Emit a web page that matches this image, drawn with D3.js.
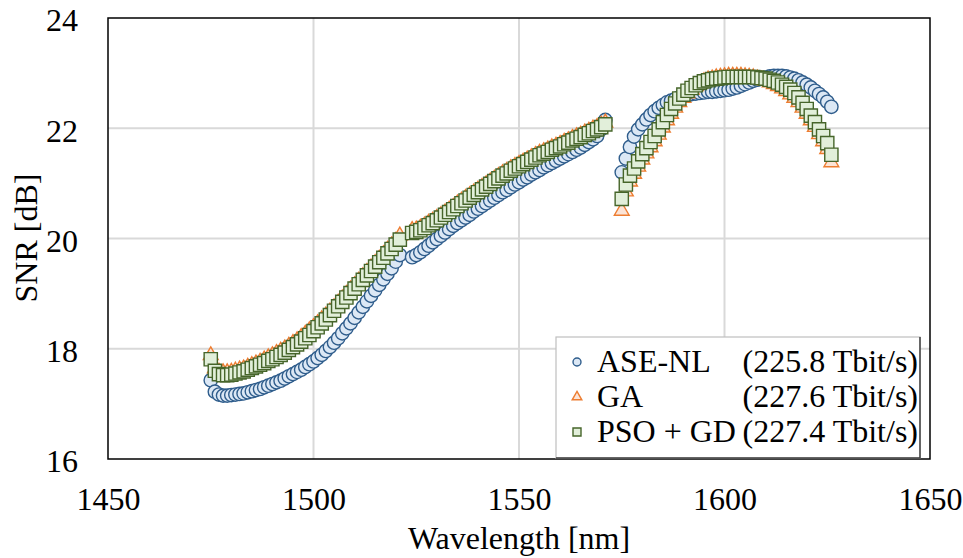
<!DOCTYPE html>
<html><head><meta charset="utf-8">
<script src="https://cdn.jsdelivr.net/npm/d3@7/dist/d3.min.js"></script>
</head><body style="margin:0"><svg id="c" width="963" height="558"></svg>
<script>
// Wavelength grid of each band [nm]
const wlS = [1475,1476,1477,1478,1479,1480,1481,1482,1483,1484,1485,1486,1487,1488,1489,1490,1491,1492,1493,1494,1495,1496,1497,1498,1499,1500,1501,1502,1503,1504,1505,1506,1507,1508,1509,1510,1511,1512,1513,1514,1515,1516,1517,1518,1519,1520,1521];
const wlC = [1524,1525,1526,1527,1528,1529,1530,1531,1532,1533,1534,1535,1536,1537,1538,1539,1540,1541,1542,1543,1544,1545,1546,1547,1548,1549,1550,1551,1552,1553,1554,1555,1556,1557,1558,1559,1560,1561,1562,1563,1564,1565,1566,1567,1568,1569,1570,1571];
const wlL = [1575,1576,1577,1578,1579,1580,1581,1582,1583,1584,1585,1586,1587,1588,1589,1590,1591,1592,1593,1594,1595,1596,1597,1598,1599,1600,1601,1602,1603,1604,1605,1606,1607,1608,1609,1610,1611,1612,1613,1614,1615,1616,1617,1618,1619,1620,1621,1622,1623,1624,1625,1626];

// SNR [dB] — ASE-NL
const aseS = [17.43,17.22,17.17,17.15,17.15,17.16,17.17,17.18,17.19,17.21,17.23,17.25,17.27,17.30,17.33,17.36,17.39,17.42,17.46,17.50,17.54,17.58,17.62,17.67,17.72,17.77,17.83,17.89,17.96,18.03,18.11,18.19,18.28,18.37,18.46,18.56,18.66,18.76,18.86,18.96,19.06,19.16,19.26,19.36,19.46,19.58,19.70];
const aseC = [19.66,19.70,19.75,19.81,19.87,19.93,19.99,20.05,20.11,20.17,20.23,20.28,20.33,20.38,20.43,20.49,20.54,20.59,20.64,20.69,20.74,20.79,20.84,20.88,20.93,20.98,21.02,21.07,21.11,21.16,21.20,21.24,21.29,21.33,21.37,21.41,21.45,21.49,21.53,21.57,21.61,21.65,21.70,21.75,21.80,21.86,21.98,22.15];
const aseL = [21.20,21.45,21.66,21.85,21.98,22.07,22.16,22.24,22.31,22.37,22.42,22.47,22.50,22.53,22.56,22.58,22.60,22.62,22.63,22.64,22.65,22.66,22.66,22.67,22.68,22.69,22.70,22.72,22.74,22.77,22.80,22.83,22.86,22.88,22.90,22.92,22.94,22.95,22.95,22.95,22.94,22.92,22.90,22.87,22.83,22.79,22.74,22.68,22.62,22.56,22.48,22.39];

// SNR [dB] — GA
const gaS = [17.88,17.64,17.58,17.57,17.57,17.58,17.60,17.62,17.64,17.67,17.70,17.73,17.76,17.80,17.84,17.88,17.92,17.96,18.00,18.05,18.10,18.15,18.21,18.27,18.33,18.39,18.46,18.53,18.60,18.67,18.75,18.83,18.91,18.99,19.07,19.15,19.23,19.31,19.39,19.47,19.55,19.63,19.71,19.79,19.87,19.95,20.05];
const gaC = [20.15,20.16,20.19,20.23,20.28,20.32,20.37,20.42,20.47,20.52,20.57,20.63,20.68,20.73,20.78,20.83,20.88,20.93,20.98,21.03,21.08,21.13,21.18,21.22,21.27,21.31,21.35,21.39,21.43,21.47,21.51,21.55,21.58,21.61,21.65,21.68,21.71,21.75,21.78,21.82,21.85,21.88,21.92,21.95,21.99,22.02,22.06,22.10];
const gaL = [20.50,20.85,21.03,21.17,21.30,21.43,21.54,21.65,21.76,21.88,22.01,22.14,22.26,22.37,22.47,22.55,22.63,22.70,22.76,22.81,22.85,22.88,22.90,22.92,22.93,22.94,22.95,22.95,22.95,22.95,22.94,22.93,22.92,22.90,22.88,22.86,22.83,22.80,22.76,22.72,22.67,22.61,22.55,22.47,22.37,22.26,22.14,22.02,21.89,21.76,21.62,21.38];

// SNR [dB] — PSO + GD
const psoS = [17.81,17.60,17.54,17.52,17.52,17.53,17.55,17.57,17.59,17.62,17.65,17.68,17.71,17.74,17.78,17.81,17.85,17.89,17.93,17.98,18.03,18.08,18.13,18.19,18.25,18.32,18.39,18.46,18.53,18.61,18.69,18.77,18.85,18.93,19.01,19.09,19.17,19.25,19.33,19.41,19.49,19.57,19.65,19.73,19.81,19.89,19.98];
const psoC = [20.10,20.12,20.15,20.19,20.24,20.28,20.33,20.38,20.43,20.48,20.53,20.59,20.64,20.69,20.74,20.79,20.84,20.89,20.94,20.99,21.04,21.09,21.14,21.18,21.23,21.27,21.31,21.35,21.39,21.43,21.47,21.51,21.54,21.57,21.61,21.64,21.67,21.71,21.74,21.78,21.81,21.84,21.88,21.91,21.95,21.98,22.02,22.07];
const psoL = [20.72,20.98,21.14,21.27,21.40,21.53,21.64,21.75,21.86,21.98,22.11,22.24,22.35,22.45,22.54,22.61,22.68,22.73,22.78,22.82,22.85,22.87,22.89,22.90,22.91,22.92,22.93,22.93,22.93,22.93,22.93,22.93,22.93,22.92,22.91,22.90,22.88,22.86,22.83,22.79,22.75,22.70,22.64,22.56,22.46,22.35,22.23,22.11,21.98,21.86,21.73,21.52];

const xTicks = [1450,1500,1550,1600,1650];
const yTicks = [16,18,20,22,24];
const seriesNames = ["ASE-NL","GA","PSO + GD"];
const seriesRates = ["(225.8 Tbit/s)","(227.6 Tbit/s)","(227.4 Tbit/s)"];

const wl = wlS.concat(wlC, wlL);
const series = [
  {name: seriesNames[0], rate: seriesRates[0], vals: aseS.concat(aseC, aseL), shape: "circle", stroke: "#2F5D8C", fill: "#DCE8F5"},
  {name: seriesNames[1], rate: seriesRates[1], vals: gaS.concat(gaC, gaL), shape: "triangle", stroke: "#ED7D31", fill: "#FCE4D6"},
  {name: seriesNames[2], rate: seriesRates[2], vals: psoS.concat(psoC, psoL), shape: "square", stroke: "#46652A", fill: "#E2EFDA"}
];

const fs = 32;
const svg = d3.select("#c");
const L = 108, R = 930, T = 18, B = 459;
const x = d3.scaleLinear().domain([1450,1650]).range([L,R]);
const y = d3.scaleLinear().domain([16,24]).range([B,T]);
function styleText(sel){ sel.style("font-family",'"Liberation Serif"').attr("font-size",fs); }

// layer containers in paint order
const gGrid = svg.append("g");
const gMarks = svg.append("g");
const gFrame = svg.append("g");
const gAxes = svg.append("g");
const gLegend = svg.append("g");
const gTitles = svg.append("g");

// titles (created first)
gTitles.append("text").attr("x",(L+R)/2).attr("y",549).attr("text-anchor","middle")
  .call(styleText).text("Wavelength [nm]");
gTitles.append("text").attr("transform","translate(37,238) rotate(-90)").attr("text-anchor","middle")
  .call(styleText).text("SNR [dB]");

// axes
const gx = gAxes.append("g").attr("transform",`translate(0,${B})`)
  .call(d3.axisBottom(x).tickValues(xTicks).tickSize(0).tickPadding(28).tickFormat(d3.format("d")));
gx.attr("fill",null).attr("font-family",null).attr("font-size",null);
gx.select(".domain").remove();
gx.selectAll("text").attr("fill",null).call(styleText);
const gy = gAxes.append("g").attr("transform",`translate(${L},0)`)
  .call(d3.axisLeft(y).tickValues(yTicks).tickSize(0).tickPadding(30).tickFormat(d3.format("d")));
gy.attr("fill",null).attr("font-family",null).attr("font-size",null);
gy.select(".domain").remove();
gy.selectAll("text").attr("fill",null).call(styleText).attr("dy","0.40em");

// symbols
function sym(shape, size){
  if(shape==="circle") return d3.symbol(d3.symbolCircle, size)();
  if(shape==="triangle") return d3.symbol(d3.symbolTriangle, size)();
  return d3.symbol(d3.symbolSquare, size)();
}

// legend
gLegend.append("rect").attr("x",556).attr("y",337).attr("width",364).attr("height",121)
  .attr("fill","#fff").attr("stroke","#bfbfbf").attr("stroke-width",1.2);
gLegend.append("path").attr("d","M920,337V458H556").attr("fill","none").attr("stroke","#404040").attr("stroke-width",1.5);
const lsizes = {circle: 50, triangle: 40, square: 64};
series.forEach((s,i)=>{
  const cy = 362 + i*35;
  gLegend.append("text").attr("x",597).attr("y",cy+10).call(styleText).text(s.name);
  gLegend.append("text").attr("x",918).attr("y",cy+10).attr("text-anchor","end").call(styleText).text(s.rate);
  gLegend.append("path").attr("d",sym(s.shape, lsizes[s.shape]))
    .attr("transform",`translate(577,${cy})`)
    .attr("fill",s.fill).attr("stroke",s.stroke).attr("stroke-width",1.4);
});

// gridlines
gGrid.append("g").selectAll("line").data(xTicks.slice(1,-1)).join("line")
  .attr("x1",d=>x(d)).attr("x2",d=>x(d)).attr("y1",T).attr("y2",B)
  .attr("stroke","#d9d9d9").attr("stroke-width",2);
gGrid.append("g").selectAll("line").data(yTicks.slice(1,-1)).join("line")
  .attr("x1",L).attr("x2",R).attr("y1",d=>y(d)).attr("y2",d=>y(d))
  .attr("stroke","#d9d9d9").attr("stroke-width",2);

// markers
const sizes = {circle: 140, triangle: 95, square: 175};
series.forEach(s=>{
  const path = sym(s.shape, sizes[s.shape]);
  gMarks.append("g").selectAll("path").data(s.vals.map((v,i)=>[wl[i],v])).join("path")
    .attr("d",path)
    .attr("transform",d=>`translate(${x(d[0])},${y(d[1])})`)
    .attr("fill",s.fill).attr("stroke",s.stroke).attr("stroke-width",1.4);
});

// frame
gFrame.append("rect").attr("x",L).attr("y",T).attr("width",R-L).attr("height",B-T)
  .attr("fill","none").attr("stroke","#000").attr("stroke-width",1.5);
</script></body></html>
